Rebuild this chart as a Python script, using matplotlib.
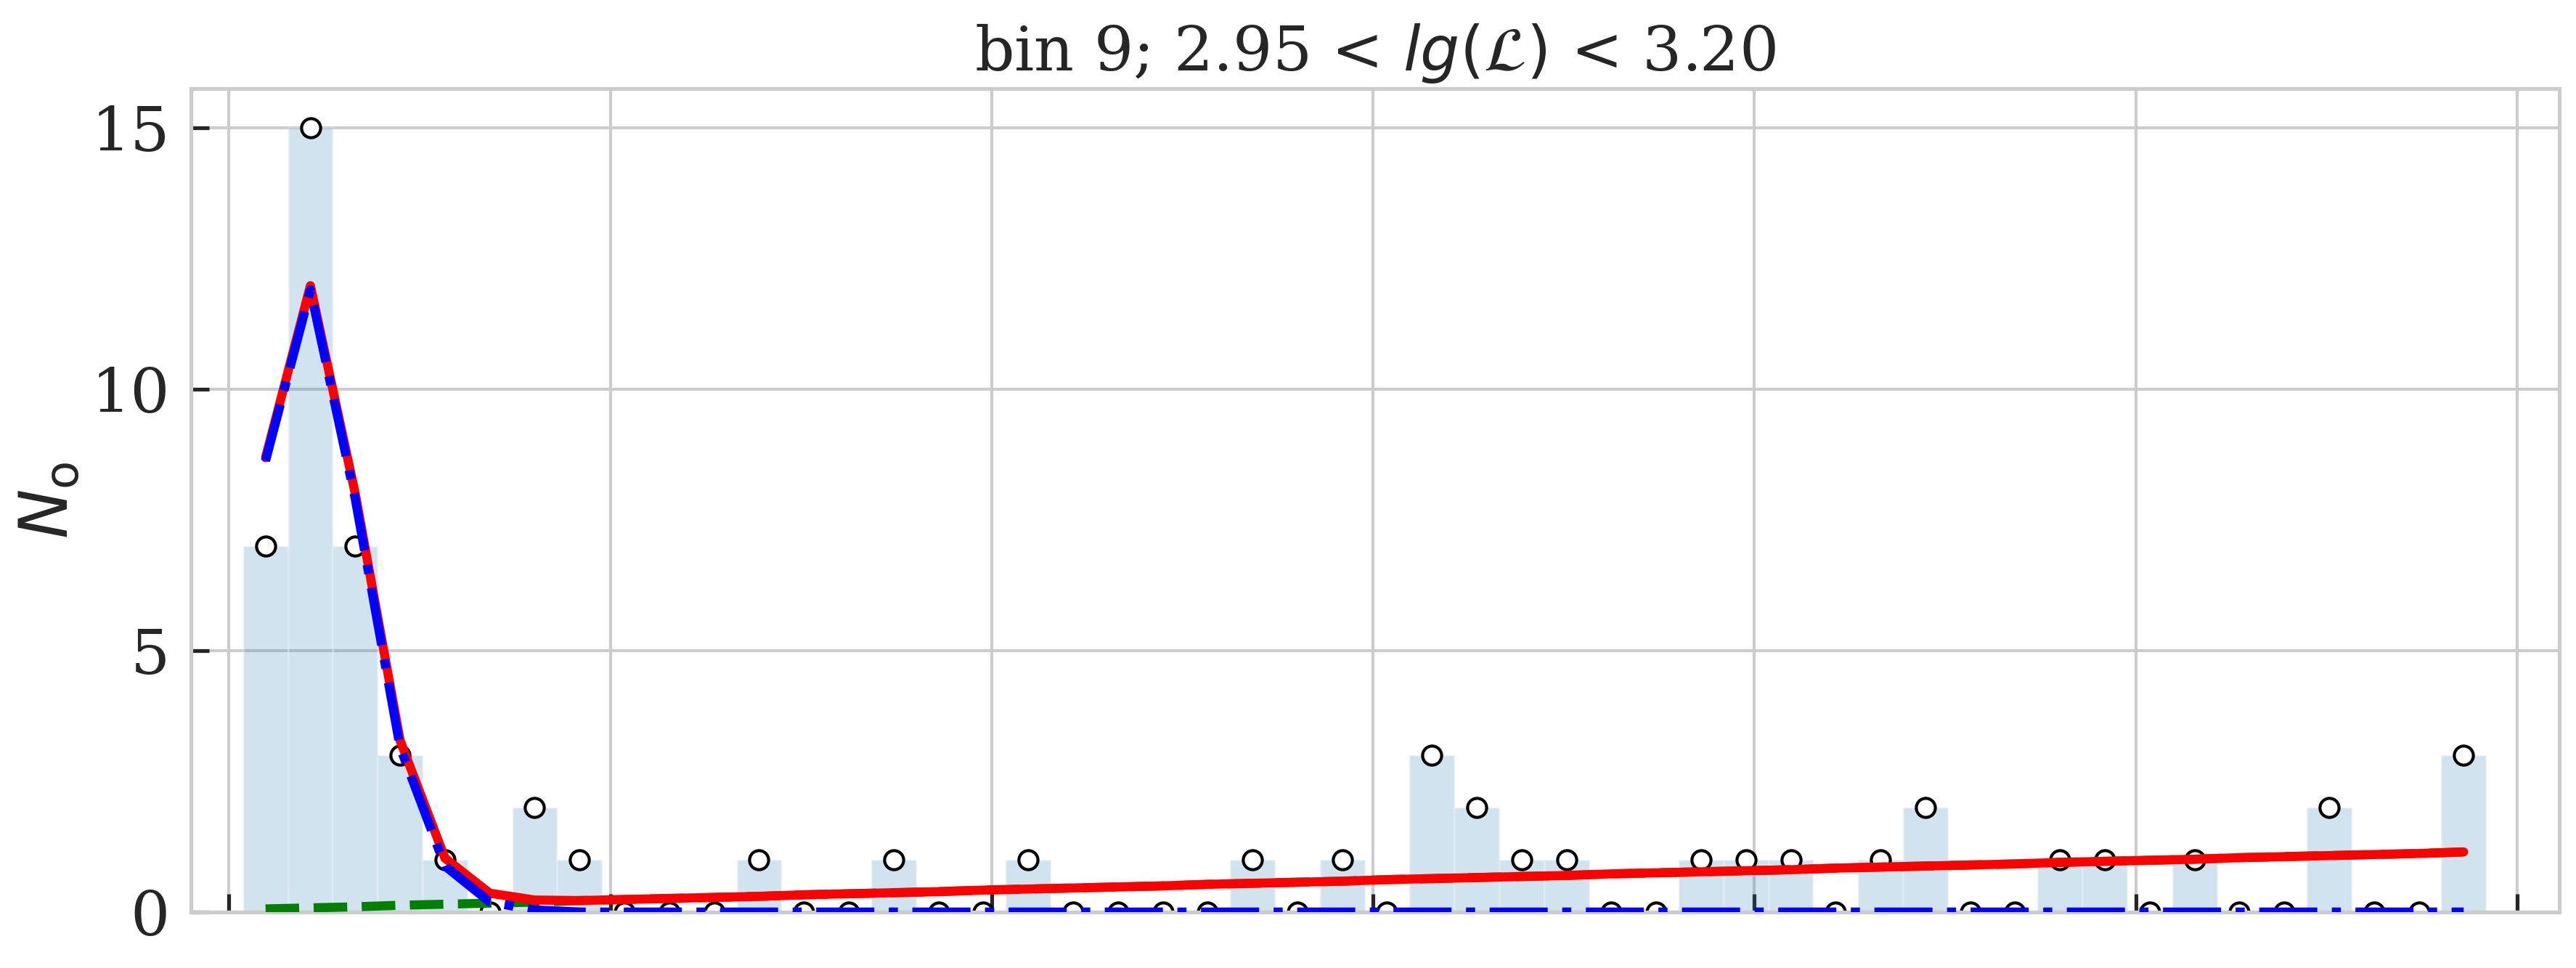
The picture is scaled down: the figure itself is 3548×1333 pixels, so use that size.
import numpy as np
import matplotlib
matplotlib.use("Agg")
import matplotlib.pyplot as plt
import seaborn as sns

# histogram of observed counts, 50 bins (x in arbitrary units, labels hidden)
bin_edges = np.linspace(0.037, 5.919, 51)
counts = [7, 15, 7, 3, 1, 0, 2, 1, 0, 0,
          0, 1, 0, 0, 1, 0, 0, 1, 0, 0,
          0, 0, 1, 0, 1, 0, 3, 2, 1, 1,
          0, 0, 1, 1, 1, 0, 1, 2, 0, 0,
          1, 1, 0, 1, 0, 0, 2, 0, 0, 3]

# model components
signal = [8.63, 11.90, 7.90, 3.15, 0.88, 0.19, 0.04, 0.0, 0.0, 0.0,
          0.0, 0.0, 0.0, 0.0, 0.0, 0.0, 0.0, 0.0, 0.0, 0.0,
          0.0, 0.0, 0.0, 0.0, 0.0, 0.0, 0.0, 0.0, 0.0, 0.0,
          0.0, 0.0, 0.0, 0.0, 0.0, 0.0, 0.0, 0.0, 0.0, 0.0,
          0.0, 0.0, 0.0, 0.0, 0.0, 0.0, 0.0, 0.0, 0.0, 0.0]
background = [0.06, 0.08, 0.10, 0.13, 0.15, 0.17, 0.19, 0.22, 0.24, 0.26,
              0.28, 0.30, 0.33, 0.35, 0.37, 0.39, 0.42, 0.44, 0.46, 0.48,
              0.50, 0.53, 0.55, 0.57, 0.59, 0.62, 0.64, 0.66, 0.68, 0.70,
              0.73, 0.75, 0.77, 0.79, 0.81, 0.84, 0.86, 0.88, 0.90, 0.92,
              0.95, 0.97, 0.99, 1.01, 1.04, 1.06, 1.08, 1.10, 1.12, 1.15]

title = r"bin 9; 2.95 < $lg(\mathcal{L})$ < 3.20"

sns.set_style("whitegrid")
plt.rcParams["font.family"] = ["DejaVu Serif"]
plt.rcParams["mathtext.fontset"] = "dejavusans"

fig = plt.figure(figsize=(3548 / 300, 1333 / 300), dpi=300)
ax = fig.add_axes([0.0741, 0.0578, 0.9193, 0.8507])

centers = 0.5 * (bin_edges[:-1] + bin_edges[1:])
widths = np.diff(bin_edges)
total = np.array(signal) + np.array(background)

ax.bar(centers, counts, width=widths, color="C0", alpha=0.2,
       edgecolor="white", linewidth=0.8, zorder=1)
ax.plot(centers, counts, "o", ms=6.3, mfc="white", mec="black", mew=1.0, zorder=2)
ax.plot(centers, background, "--", color="green", lw=3, zorder=3)
ax.plot(centers, total, "-", color="red", lw=3, zorder=4)
ax.plot(centers, signal, "-.", color="blue", lw=3, zorder=5)

ax.set_xlim(-0.1, 6.11)
ax.set_ylim(0, 15.75)
ax.set_xticks(range(7))
ax.set_xticklabels([])
ax.set_yticks([0, 5, 10, 15])

ax.tick_params(axis="both", direction="in", length=6, width=1.25,
               color="#262626", labelcolor="#262626", labelsize=20.5, pad=7,
               bottom=True, left=True)
for s in ax.spines.values():
    s.set_color("#cccccc")
    s.set_linewidth(1.25)
ax.grid(True, color="#cccccc", linewidth=1.0)

ax.set_ylabel(r"$N_\mathrm{o}$", fontsize=22, color="#262626", labelpad=3)
ax.set_title(title, fontsize=20.5, color="#262626", pad=6)

fig.savefig("out.png", dpi=300)
